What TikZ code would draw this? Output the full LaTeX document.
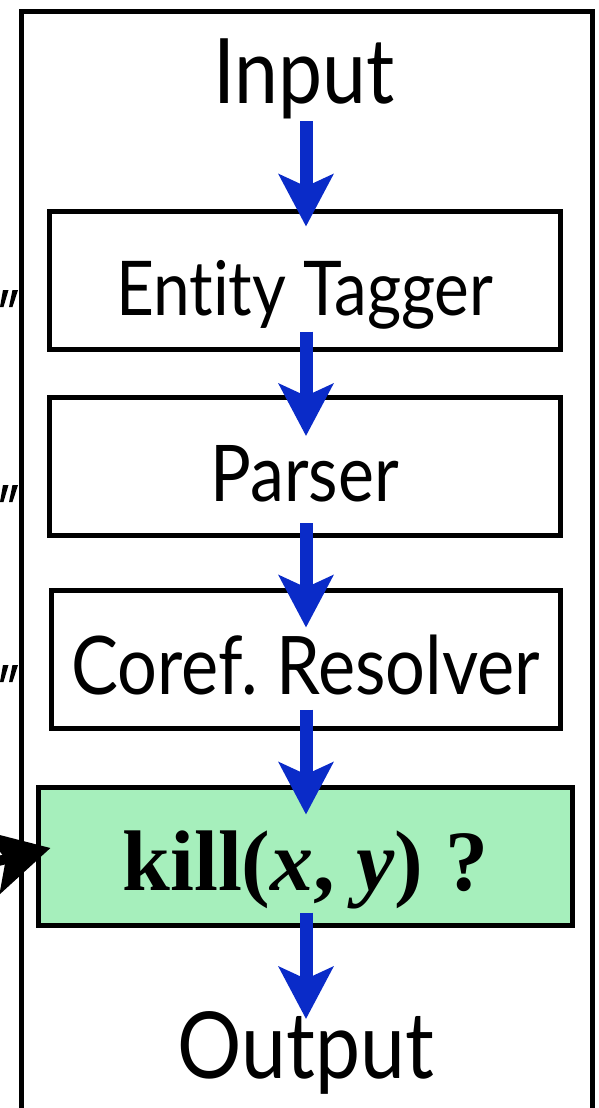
\documentclass[tikz,border=0pt]{standalone}
\usepackage{fontspec}
\usetikzlibrary{arrows.meta}
\newfontfamily\gillfont[Ligatures={NoCommon}]{Lato}
\newfontfamily\tnrfont{Liberation Serif}
\definecolor{flowblue}{RGB}{10,43,200}
\definecolor{stagegreen}{RGB}{166,239,188}
% sans label at a given size, drawn a little taller than the font's own shape
\newcommand{\stagelabel}[2]{\scalebox{1}[1.15]{\gillfont\fontsize{#1}{#1}\selectfont #2}}
\tikzset{
  stagebox/.style={draw=black, line width=5pt, minimum height=138pt, inner sep=0pt,
    text depth=0pt},
  flowarrow/.style={draw=flowblue, line width=13pt,
    -{Stealth[length=52pt, width=54pt, inset=12pt, fill=flowblue]}},
  feedarrow/.style={draw=black, line width=10pt,
    -{Stealth[length=60pt, width=64pt, inset=14pt]}},
  endtext/.style={anchor=base, inner sep=0pt},
  quotemark/.style={fill=black, draw=none}
}
\begin{document}
\begin{tikzpicture}[x=1pt, y=-1pt]
\useasboundingbox (0,0) rectangle (599,1108);
\clip (0,0) rectangle (599,1108);

% open outer frame
\draw[line width=5pt, line join=miter] (21.5,1120) -- (21.5,11.5) -- (592.5,11.5) -- (592.5,1120);

% pipeline stages
\node[endtext] (input) at (304,103) {\stagelabel{78.6}{Input}};
\node[stagebox, minimum width=510.5pt, text height=70pt] (tagger) at (304.75,280)
  {\stagelabel{65.7}{Entity Tagger}};
\node[stagebox, minimum width=510.5pt, text height=69pt] (parser) at (304.75,466.5)
  {\stagelabel{68}{Parser}};
\node[stagebox, minimum width=508.5pt, text height=70pt] (coref) at (305.75,659)
  {\stagelabel{70.3}{Coref.\ Resolver}};
\node[stagebox, fill=stagegreen, minimum width=533.5pt, text height=68pt,
      font=\tnrfont\bfseries\fontsize{86}{86}\selectfont] (kill) at (305.25,856)
      {kill(\textit{x}, \textit{y}) ?};
\node[endtext] (output) at (306,1078) {\stagelabel{80.4}{Output}};

% flow between stages
\draw[flowarrow] (306,121) -- ([yshift=-18pt]tagger.north -| 306,0);
\draw[flowarrow] ([yshift=20pt]tagger.south -| 306,0) -- ([yshift=-41pt]parser.north -| 306,0);
\draw[flowarrow] ([yshift=15pt]parser.south -| 306,0) -- ([yshift=-40pt]coref.north -| 306,0);
\draw[flowarrow] ([yshift=21pt]coref.south -| 306,0) -- ([yshift=-30pt]kill.north -| 306,0);
\draw[flowarrow] ([yshift=15pt]kill.south -| 306,0) -- (306,1019);

% incoming arrow at the question stage
\coordinate (feedsrc) at (-90,883);
\draw[feedarrow] (feedsrc) -- ([xshift=14.5pt, yshift=8pt]kill.west);

% closing quote marks along the left edge
\foreach \y in {290,485,665}{
  \fill[quotemark] (3,\y) -- (8.5,\y) -- (3.5,\y+17) -- (0,\y+17) -- cycle;
  \fill[quotemark] (12.5,\y) -- (18,\y) -- (12.5,\y+17) -- (9,\y+17) -- cycle;
}
\end{tikzpicture}
\end{document}
